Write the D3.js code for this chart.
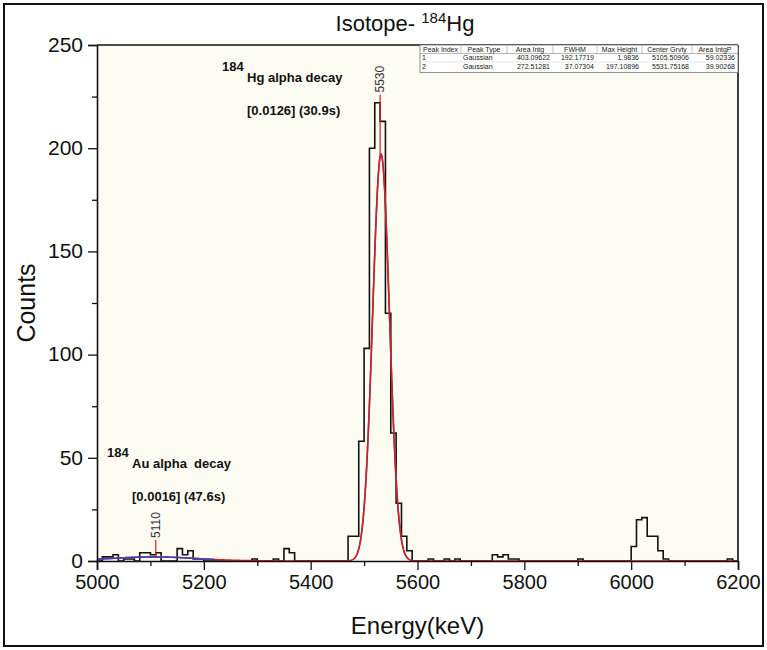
<!DOCTYPE html>
<html>
<head>
<meta charset="utf-8">
<script src="https://cdn.jsdelivr.net/npm/d3@7/dist/d3.min.js"></script>
<style>
body { margin: 0; background: #fff; }
svg text { font-family: "Liberation Sans", Arial, sans-serif; }
</style>
</head>
<body>
<script>
//histogram: counts per 10 keV bin, starting at 5000 keV
var binStart = 5000;
var binWidth = 10;
var counts = [
  0, 2, 2, 3, 0, 1, 1, 0, 4, 4,        //5000
  3, 4, 0, 0, 0, 6, 3, 5, 1, 1,        //5100
  0, 0, 0, 0, 0, 0, 0, 0, 0, 1,        //5200
  0, 0, 0, 1, 0, 6, 4, 0, 0, 0,        //5300
  0, 0, 0, 0, 0, 0, 0, 12, 12, 58,     //5400
  103, 200, 222, 213, 120, 62, 28, 12, 5, 0, //5500
  0, 0, 1, 0, 0, 1, 0, 1, 0, 0,        //5600
  0, 0, 0, 0, 3, 2, 3, 1, 1, 0,        //5700
  0, 0, 0, 0, 0, 0, 0, 0, 0, 0,        //5800
  1, 0, 0, 0, 0, 0, 0, 0, 0, 0,        //5900
  7, 20, 21, 12, 12, 5, 1, 0, 0, 0,    //6000
  0, 0, 0, 0, 0, 0, 0, 0, 1, 0         //6100
];

//gaussian fit results (from the fit table)
var peakIndex = ["1", "2"];
var peakType = ["Gaussian", "Gaussian"];
var areaIntg = ["403.09622", "272.51281"];
var fwhm = [192.17719, 37.07304];
var maxHeight = [1.9836, 197.10896];
var centerGrvty = [5105.50906, 5531.75168];
var areaIntgP = ["59.02336", "39.90268"];
var peakRanges = [[5000, 5220], [5480, 5585]];
var peakLabels = ["5110", "5530"];
var tableHeaders = ["Peak Index", "Peak Type", "Area Intg", "FWHM", "Max Height", "Center Grvty", "Area IntgP"];

//axis ticks
var xMajor = [5000, 5200, 5400, 5600, 5800, 6000, 6200];
var xMinor = [5100, 5300, 5500, 5700, 5900, 6100];
var yMajor = [0, 50, 100, 150, 200, 250];
var yMinor = [25, 75, 125, 175, 225];

//layout (note: "top" is reserved by the browser window)
var w = 767;
var h = 650;
var pLeft = 97, pRight = 738, pTop = 45, pBottom = 561;

var svg = d3.select("body")
  .append("svg")
  .attr("width", w)
  .attr("height", h);

//outer frame of the figure
svg.append("rect")
  .attr("x", 4).attr("y", 4)
  .attr("width", w - 8).attr("height", h - 8)
  .attr("fill", "#fff")
  .attr("stroke", "#111")
  .attr("stroke-width", 2);

var xScale = d3.scaleLinear().domain([5000, 6200]).range([pLeft, pRight]);
var yScale = d3.scaleLinear().domain([0, 250]).range([pBottom, pTop]);

//plot background
svg.append("rect")
  .attr("x", pLeft).attr("y", pTop)
  .attr("width", pRight - pLeft).attr("height", pBottom - pTop)
  .attr("fill", "#fcfcf3");

//histogram as a step line
var histPts = counts.map(function(c, i) { return [binStart + i * binWidth, c]; });
histPts.push([binStart + counts.length * binWidth, counts[counts.length - 1]]);

var stepLine = d3.line()
  .x(function(d) { return xScale(d[0]); })
  .y(function(d) { return yScale(d[1]); })
  .curve(d3.curveStepAfter);

svg.append("path")
  .datum(histPts)
  .attr("d", stepLine)
  .attr("fill", "none")
  .attr("stroke", "#111")
  .attr("stroke-width", 1.6);

//fit curves
function gauss(k, e) {
  var s = fwhm[k] / 2.35482;
  return maxHeight[k] * Math.exp(-Math.pow(e - centerGrvty[k], 2) / (2 * s * s));
}
var fitLine = d3.line()
  .x(function(d) { return xScale(d[0]); })
  .y(function(d) { return yScale(d[1]); });

function peakCurve(k) {
  return d3.range(peakRanges[k][0], peakRanges[k][1] + 0.5, 1).map(function(e) { return [e, gauss(k, e)]; });
}

svg.append("path")
  .datum(peakCurve(1))
  .attr("d", fitLine)
  .attr("fill", "none")
  .attr("stroke", "#3344cc")
  .attr("stroke-width", 1.5);

var cumulative = d3.range(5000, 6200.5, 1).map(function(e) { return [e, gauss(0, e) + gauss(1, e)]; });
svg.append("path")
  .datum(cumulative)
  .attr("d", fitLine)
  .attr("fill", "none")
  .attr("stroke", "#d61f1f")
  .attr("stroke-width", 1.6);

svg.append("path")
  .datum(peakCurve(0))
  .attr("d", fitLine)
  .attr("fill", "none")
  .attr("stroke", "#3344cc")
  .attr("stroke-width", 1.5);

//peak markers
peakLabels.forEach(function(lab, k) {
  var e = +lab;
  var y0 = yScale(gauss(0, e) + gauss(1, e));
  var y1 = k == 0 ? y0 - 17 : yScale(226);
  svg.append("line")
    .attr("x1", xScale(e)).attr("x2", xScale(e))
    .attr("y1", y0).attr("y2", y1)
    .attr("stroke", "#d61f1f")
    .attr("stroke-width", 1.2);
  svg.append("text")
    .attr("transform", "translate(" + (xScale(e) + 4) + "," + (y1 - 2) + ") rotate(-90)")
    .attr("font-size", "12px")
    .attr("fill", "#333")
    .text(lab);
});

//frame top and right
svg.append("line")
  .attr("x1", pLeft).attr("x2", pRight).attr("y1", pTop).attr("y2", pTop)
  .attr("stroke", "#111").attr("stroke-width", 1.6);
svg.append("line")
  .attr("x1", pRight).attr("x2", pRight).attr("y1", pTop).attr("y2", pBottom)
  .attr("stroke", "#111").attr("stroke-width", 1.6);

//axes
svg.append("g")
  .attr("transform", "translate(0," + pBottom + ")")
  .call(d3.axisBottom(xScale).tickValues(xMajor).tickSize(9).tickPadding(5).tickFormat(d3.format("d")));
svg.append("g")
  .attr("transform", "translate(0," + pBottom + ")")
  .call(d3.axisBottom(xScale).tickValues(xMinor).tickSize(5).tickFormat(""))
  .select(".domain").remove();

svg.append("g")
  .attr("class", "yaxis")
  .attr("transform", "translate(" + pLeft + ",0)")
  .call(d3.axisLeft(yScale).tickValues(yMajor).tickSize(9).tickPadding(5));
svg.append("g")
  .attr("transform", "translate(" + pLeft + ",0)")
  .call(d3.axisLeft(yScale).tickValues(yMinor).tickSize(5).tickFormat(""))
  .select(".domain").remove();

svg.selectAll(".domain").attr("stroke", "#111").attr("stroke-width", 1.6);
svg.selectAll(".tick line").attr("stroke", "#111").attr("stroke-width", 1.3);
svg.selectAll(".tick text")
  .attr("font-family", "Liberation Sans, Arial, sans-serif")
  .attr("font-size", "20px")
  .attr("fill", "#111");
svg.selectAll(".yaxis .tick text").attr("font-size", "21px").attr("dy", "0.3em");

//axis titles
svg.append("text")
  .attr("x", (pLeft + pRight) / 2)
  .attr("y", 634)
  .attr("text-anchor", "middle")
  .attr("font-size", "24px")
  .attr("fill", "#111")
  .text("Energy(keV)");

svg.append("text")
  .attr("transform", "translate(35," + ((pTop + pBottom) / 2) + ") rotate(-90)")
  .attr("text-anchor", "middle")
  .attr("font-size", "25px")
  .attr("fill", "#111")
  .text("Counts");

//title
var title = svg.append("text")
  .attr("x", 405)
  .attr("y", 31)
  .attr("text-anchor", "middle")
  .attr("font-size", "22px")
  .attr("fill", "#111");
title.append("tspan").text("Isotope- ");
title.append("tspan").attr("font-size", "15px").attr("dy", -8).text("184");
title.append("tspan").attr("dy", 8).text("Hg");

//decay annotations
function decayNote(x, y, element, text, ratio) {
  var g = svg.append("g").attr("font-weight", "bold").attr("fill", "#111");
  g.append("text").attr("x", x).attr("y", y).attr("font-size", "13px").text("184");
  g.append("text").attr("x", x + 25).attr("y", y + 11).attr("font-size", "13px").text(element + text);
  g.append("text").attr("x", x + 25).attr("y", y + 44).attr("font-size", "13px").text(ratio);
}
decayNote(222, 71, "Hg", " alpha decay", "[0.0126] (30.9s)");
decayNote(107, 457, "Au", " alpha\u00a0\u00a0decay", "[0.0016] (47.6s)");

//fit table
var colEdges = [420, 461, 507, 553, 597, 642, 692, 738];
var rowH = 8.5;
var tbl = svg.append("g").attr("font-size", "7px").attr("fill", "#222");
tbl.append("rect")
  .attr("x", colEdges[0]).attr("y", pTop)
  .attr("width", pRight - colEdges[0]).attr("height", rowH * 3 + 2)
  .attr("fill", "#fff")
  .attr("stroke", "#777").attr("stroke-width", 0.8);
tbl.append("line")
  .attr("x1", colEdges[0]).attr("x2", pRight)
  .attr("y1", pTop + rowH).attr("y2", pTop + rowH)
  .attr("stroke", "#888").attr("stroke-width", 0.6);
tbl.append("line")
  .attr("x1", colEdges[0]).attr("x2", pRight)
  .attr("y1", pTop + rowH * 2).attr("y2", pTop + rowH * 2)
  .attr("stroke", "#ccc").attr("stroke-width", 0.5);
colEdges.slice(1, -1).forEach(function(cx) {
  tbl.append("line")
    .attr("x1", cx).attr("x2", cx)
    .attr("y1", pTop).attr("y2", pTop + rowH)
    .attr("stroke", "#999").attr("stroke-width", 0.6);
});
tableHeaders.forEach(function(t, i) {
  tbl.append("text")
    .attr("x", (colEdges[i] + colEdges[i + 1]) / 2)
    .attr("y", pTop + rowH - 2)
    .attr("text-anchor", "middle")
    .text(t);
});
var rows = peakIndex.map(function(p, k) {
  return [p, peakType[k], areaIntg[k], fwhm[k].toFixed(5), String(maxHeight[k]),
          centerGrvty[k].toFixed(5), areaIntgP[k]];
});
rows.forEach(function(r, k) {
  r.forEach(function(t, i) {
    var alignLeft = i < 2;
    tbl.append("text")
      .attr("x", alignLeft ? colEdges[i] + 2 : colEdges[i + 1] - 3)
      .attr("y", pTop + rowH * (k + 2) - 2)
      .attr("text-anchor", alignLeft ? "start" : "end")
      .text(t);
  });
});
</script>
</body>
</html>
